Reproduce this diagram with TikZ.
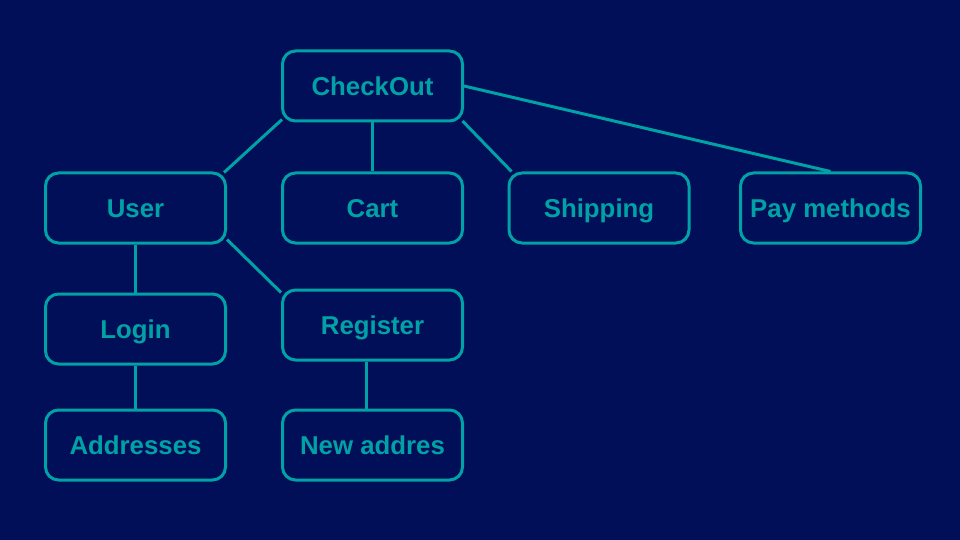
\documentclass[tikz,border=0pt]{standalone}
\usepackage{fontspec}
\setmainfont{Liberation Sans}
\usetikzlibrary{calc}
\definecolor{bgnavy}{RGB}{1,15,88}
\definecolor{tealc}{RGB}{0,162,166}
\tikzset{
  box/.style={draw=tealc, line width=3pt, rounded corners=13pt, minimum width=180pt, minimum height=70pt, inner sep=0pt, text height=18.4pt, text depth=0pt, text=tealc, font=\fontsize{25.8}{28}\selectfont\bfseries},
  link/.style={draw=tealc, line width=3pt}
}
\begin{document}
\begin{tikzpicture}[x=1pt,y=-1pt]
\fill[bgnavy] (0,0) rectangle (960,540);
\useasboundingbox (0,0) rectangle (960,540);
\node[box] (co) at (372.5,86) {CheckOut};
\node[box] (user) at (135.5,208) {User};
\node[box] (cart) at (372.5,208) {Cart};
\node[box] (ship) at (599,208) {Shipping};
\node[box] (pay) at (830.5,208) {Pay methods};
\node[box] (login) at (135.5,329) {Login};
\node[box] (reg) at (372.5,325) {Register};
\node[box] (addr) at (135.5,445) {Addresses};
\node[box] (new) at (372.5,445) {New addres};
\draw[link] ($(co.south west)+(1,-3)$) -- ($(user.north east)+(-3,1)$);
\draw[link] (co.south) -- (cart.north);
\draw[link] ($(co.south east)+(-1.5,-1.5)$) -- ($(ship.north west)+(4,0)$);
\draw[link] (co.east) -- (pay.north);
\draw[link] (user.south) -- (login.north);
\draw[link] ($(user.south east)+(0,-5)$) -- ($(reg.north west)+(0,4)$);
\draw[link] (login.south) -- (addr.north);
\draw[link] ($(reg.south)+(-6.5,0)$) -- ($(new.north)+(-6.5,0)$);
\end{tikzpicture}
\end{document}
